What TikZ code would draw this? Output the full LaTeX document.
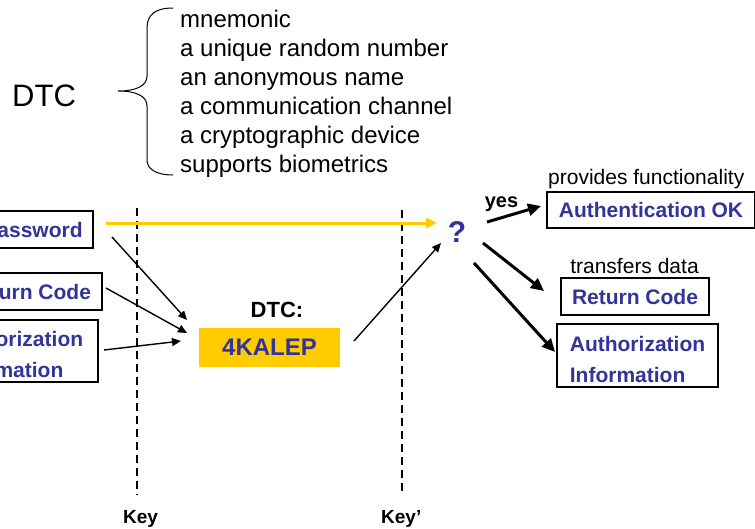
\documentclass[tikz,border=0pt]{standalone}
\usepackage{fontspec}
\setmainfont{Liberation Sans}
\usetikzlibrary{arrows.meta}
\definecolor{dtcblue}{HTML}{333399}
\definecolor{dtcgold}{HTML}{FFCC00}
\begin{document}
\begin{tikzpicture}[x=1pt,y=-1pt,
  framebox/.style={draw=black, line width=1.3pt, inner sep=0pt,
    font=\fontsize{21}{31}\selectfont\bfseries, text=dtcblue},
  plain/.style={inner sep=0pt, font=\fontsize{21}{25}\selectfont},
  keylabel/.style={inner sep=0pt, font=\fontsize{19}{23}\selectfont\bfseries},
  thinarrow/.style={line width=1.4pt, -{Triangle[length=9pt,width=8pt]}},
  thickarrow/.style={line width=3pt, -{Triangle[length=13pt,width=12pt]}},
  keyline/.style={line width=1.5pt, dash pattern=on 8pt off 5pt}]
\useasboundingbox (0,0) rectangle (755,528);

% heading with brace and list of properties
\node[inner sep=0pt, anchor=base west, font=\fontsize{31}{36}\selectfont] (dtc) at (12,106) {DTC};
\draw[line width=1pt] (173,8) .. controls (156,8) and (147,14) .. (147,28) -- (147,76)
  .. controls (147,86) and (136,91) .. (118,91)
  .. controls (136,91) and (147,96) .. (147,106) -- (147,160)
  .. controls (147,169) and (156,175) .. (173,175);
\foreach \t [count=\i] in {mnemonic, a unique random number, an anonymous name,
  a communication channel, a cryptographic device, supports biometrics}
  \node[inner sep=0pt, anchor=base west, font=\fontsize{24}{29}\selectfont]
    (item\i) at (180,{27+29*(\i-1)}) {\t};

% key boundaries
\coordinate (keyAtop) at (137,208);
\coordinate (keyAbot) at (137,495);
\coordinate (keyBtop) at (402,210);
\coordinate (keyBbot) at (402,495);
\draw[keyline] (keyAtop) -- (keyAbot);
\draw[keyline] (keyBtop) -- (keyBbot);
\node[keylabel, anchor=base west] (keyA) at (123,523) {Key};
\node[keylabel, anchor=base west] (keyB) at (381,523) {Key’};

% inputs on the left
\node[framebox, minimum width=120, minimum height=37] (pw) at (33,229.5) {Password};
\node[framebox, minimum width=148, minimum height=37] (rcin) at (28,291.5) {Return Code};
\node[framebox, minimum width=165, minimum height=62, align=left] (aiin) at (15.5,351)
  {\rule{0pt}{23pt}Authorization\\Information};

% the DTC itself
\node[inner sep=0pt, anchor=base, font=\fontsize{22}{26}\selectfont\bfseries] (dtclabel) at (277,317) {DTC:};
\node[fill=dtcgold, inner sep=0pt, minimum width=141, minimum height=39,
  font=\fontsize{24}{28}\selectfont\bfseries, text=dtcblue] (code) at (269.5,347.5) {4KALEP};

% decision point
\node[inner sep=0pt, anchor=base, font=\fontsize{30}{34}\selectfont\bfseries, text=dtcblue] (check) at (457,242) {?};

% outputs on the right
\node[framebox, minimum width=208, minimum height=36] (authok) at (651,210) {Authentication OK};
\node[framebox, minimum width=148, minimum height=37] (rcout) at (635,296.5) {Return Code};
\node[framebox, minimum width=161, minimum height=63, align=left] (aiout) at (637.5,355.5)
  {\rule{0pt}{23pt}Authorization\\Information};
\node[plain, anchor=base west] (provides) at (548,184) {provides functionality};
\node[plain, anchor=base] (transfers) at (634.5,273) {transfers data};
\node[inner sep=0pt, anchor=base, font=\fontsize{20}{24}\selectfont\bfseries] (yes) at (501.5,207) {yes};

% connectors
\coordinate (ys) at (106,223);
\coordinate (ye) at (437,223);
\draw[dtcgold, line width=3pt, -{Triangle[length=11pt,width=10pt]}] (ys) -- (ye);

\coordinate (a1s) at (112,237);  \coordinate (a1e) at (187,320);
\coordinate (a2s) at (106,288);  \coordinate (a2e) at (187,333);
\coordinate (a3s) at (104,350);  \coordinate (a3e) at (181,341);
\coordinate (a4s) at (354,341);  \coordinate (a4e) at (441,243);
\draw[thinarrow] (a1s) -- (a1e);
\draw[thinarrow] (a2s) -- (a2e);
\draw[thinarrow] (a3s) -- (a3e);
\draw[thinarrow] (a4s) -- (a4e);

\coordinate (b1s) at (487,222);  \coordinate (b1e) at (541,206);
\coordinate (b2s) at (483,243);  \coordinate (b2e) at (544,291);
\coordinate (b3s) at (474,263);  \coordinate (b3e) at (555,352);
\draw[thickarrow] (b1s) -- (b1e);
\draw[thickarrow] (b2s) -- (b2e);
\draw[thickarrow] (b3s) -- (b3e);
\end{tikzpicture}
\end{document}
